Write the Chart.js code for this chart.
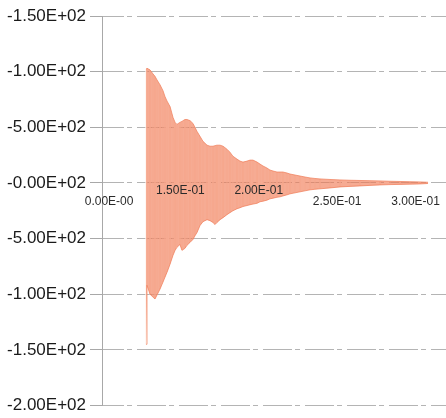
<!DOCTYPE html>
<html>
<head>
<meta charset="utf-8">
<script src="https://cdn.jsdelivr.net/npm/chart.js@4/dist/chart.umd.min.js"></script>
<style>
    body { margin: 0; background: #fff; }
    canvas { display: block; }
</style>
</head>
<body>
<canvas id="waveChart" width="446" height="418"></canvas>
<script>
// Signal envelope (time, top of the trace, bottom of the trace)
const timeValues = [
    0.1281, 0.1287, 0.1306, 0.1325, 0.1338, 0.1351, 0.1370, 0.1389, 0.1402, 0.1415,
    0.1434, 0.1453, 0.1466, 0.1478, 0.1497, 0.1510, 0.1529, 0.1542, 0.1561, 0.1580,
    0.1593, 0.1606, 0.1625, 0.1644, 0.1670, 0.1689, 0.1708, 0.1721, 0.1733, 0.1753,
    0.1772, 0.1797, 0.1816, 0.1835, 0.1861, 0.1880, 0.1899, 0.1925, 0.1944, 0.1963,
    0.1989, 0.2008, 0.2027, 0.2052, 0.2071, 0.2091, 0.2116, 0.2135, 0.2154, 0.2180,
    0.2199, 0.2231, 0.2263, 0.2295, 0.2327, 0.2358, 0.2390, 0.2454, 0.2518, 0.2582,
    0.2645, 0.2709, 0.2773, 0.2837, 0.2901, 0.2964, 0.3028, 0.3079
];
const upperValues = [
    102.5, 103, 101.6, 98, 95.8, 92.5, 88.2, 82.9, 77.5, 73.5,
    68.6, 58.8, 54.4, 52.6, 54.4, 55.3, 57, 57, 56, 53.5,
    50, 46.3, 41.9, 37.4, 33.9, 33, 33, 33.5, 33.9, 33.9,
    33, 30.3, 27.6, 24, 21.4, 19.6, 18.7, 19.6, 20.5, 20.5,
    18.7, 16.9, 15.2, 13.4, 11.6, 10.7, 9.8, 9.8, 9.8, 8.9,
    8, 7.1, 6.2, 5.3, 4.5, 4, 3.6, 3.1, 2.7, 2.4,
    2.2, 2, 1.8, 1.5, 1.3, 1.1, 0.9, 0.6
];
const lowerValues = [
    -145, -92, -100, -102.6, -104.3, -100.7, -95.4, -89.1, -84.6, -80.2,
    -73, -65, -60.6, -57.9, -55.3, -60.6, -58.8, -56.1, -53.5, -50.8,
    -47.5, -44.6, -38.3, -34.8, -33, -33.9, -35.6, -37.4, -35.6, -33,
    -31.2, -28.5, -26.7, -25, -23.2, -22.3, -21.2, -20.3, -19.6, -19,
    -18.3, -16.9, -16.4, -15.5, -14.3, -13.7, -12.9, -12.5, -11.7, -10.7,
    -9.8, -8.9, -8, -7.1, -6.2, -5.7, -5.3, -4.5, -3.6, -3.1,
    -2.7, -2.2, -1.8, -1.5, -1.3, -1.1, -0.9, -0.5
];

// Axis ticks as printed on the chart
const yTickValues = [150, 100, 50, 0, -50, -100, -150, -200];
const yTickLabels = ['-1.50E+02', '-1.00E+02', '-5.00E+02', '-0.00E+02', '-5.00E+02', '-1.00E+02', '-1.50E+02', '-2.00E+02'];
const xTickValues = [0.1045, 0.15, 0.2, 0.25, 0.3];
const xTickLabels = ['0.00E-00', '1.50E-01', '2.00E-01', '2.50E-01', '3.00E-01'];

document.addEventListener('DOMContentLoaded', function() {
    initChart();
});

function buildPoints(values) {
    return timeValues.map((t, i) => ({ x: t, y: values[i] }));
}

function buildStripes() {
    // vertical strokes between top and bottom of the trace
    const pts = [];
    timeValues.forEach((t, i) => {
        if (i % 2 === 0) {
            pts.push({ x: t, y: upperValues[i] }, { x: t, y: lowerValues[i] });
        } else {
            pts.push({ x: t, y: lowerValues[i] }, { x: t, y: upperValues[i] });
        }
    });
    return pts;
}

function initChart() {
    const ctx = document.getElementById('waveChart');
    const lowerRow = ['0.00E-00', '2.50E-01', '3.00E-01'];

    new Chart(ctx, {
        type: 'line',
        data: {
            datasets: [{
                data: buildPoints(upperValues),
                borderColor: 'rgba(240, 130, 95, 0.75)',
                borderWidth: 1,
                backgroundColor: 'rgba(240, 120, 80, 0.62)',
                fill: '+1',
                pointRadius: 0,
                tension: 0
            }, {
                data: buildPoints(lowerValues),
                borderColor: 'rgba(240, 130, 95, 0.75)',
                borderWidth: 1,
                fill: false,
                pointRadius: 0,
                tension: 0
            }, {
                data: buildStripes(),
                borderWidth: 1,
                fill: false,
                pointRadius: 0,
                tension: 0,
                segment: {
                    borderColor: c => c.p0.parsed.x === c.p1.parsed.x ? 'rgba(255, 242, 236, 0.7)' : 'rgba(0, 0, 0, 0)'
                }
            }]
        },
        options: {
            responsive: false,
            animation: false,
            devicePixelRatio: 1,
            layout: {
                padding: { top: 16, bottom: 9, left: 0, right: 0 }
            },
            plugins: {
                legend: { display: false },
                tooltip: { enabled: false }
            },
            scales: {
                x: {
                    type: 'linear',
                    position: { y: 0 },
                    min: 0.1,
                    max: 0.3194,
                    afterBuildTicks: function(scale) {
                        scale.ticks = xTickValues.map(v => ({ value: v }));
                    },
                    grid: { display: false, drawTicks: false },
                    border: { display: false },
                    ticks: {
                        z: 1,
                        autoSkip: false,
                        maxRotation: 0,
                        padding: 3,
                        color: '#2a2a2a',
                        font: { family: 'Liberation Sans, Arial', size: 12, lineHeight: '10.5px' },
                        callback: function(value, index) {
                            const label = xTickLabels[index];
                            return lowerRow.includes(label) ? ['', label] : label;
                        }
                    }
                },
                y: {
                    min: -200,
                    max: 150,
                    afterFit: function(scale) {
                        scale.width = 102;
                    },
                    grid: {
                        color: '#b4b4b4',
                        lineWidth: 1,
                        tickLength: 12,
                        tickColor: '#a8a8a8'
                    },
                    border: {
                        display: true,
                        color: '#a8a8a8',
                        width: 1,
                        dash: [29, 3, 5, 5],
                        dashOffset: 8
                    },
                    ticks: {
                        stepSize: 50,
                        padding: 4,
                        color: '#1a1a1a',
                        font: { family: 'Liberation Sans, Arial', size: 17, lineHeight: 1 },
                        callback: function(value) {
                            const i = yTickValues.indexOf(value);
                            return i >= 0 ? yTickLabels[i] : '';
                        }
                    }
                }
            }
        }
    });
}
</script>
</body>
</html>
